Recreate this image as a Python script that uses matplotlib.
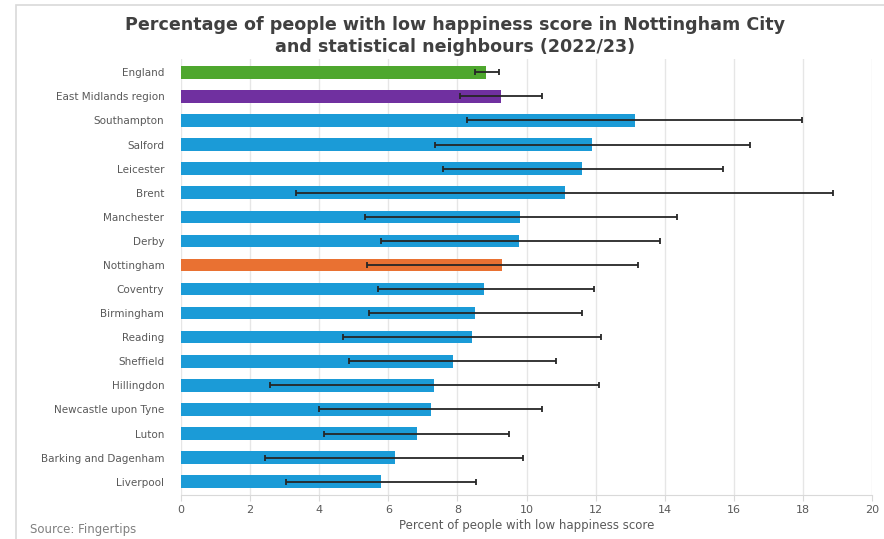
import matplotlib.pyplot as plt
from matplotlib.patches import Rectangle
import numpy as np

areas = ["England", "East Midlands region", "Southampton", "Salford", "Leicester",
         "Brent", "Manchester", "Derby", "Nottingham", "Coventry", "Birmingham",
         "Reading", "Sheffield", "Hillingdon", "Newcastle upon Tyne", "Luton",
         "Barking and Dagenham", "Liverpool"]
values = [8.83, 9.26, 13.13, 11.91, 11.62, 11.11, 9.81, 9.79, 9.29, 8.78, 8.51,
          8.41, 7.86, 7.32, 7.23, 6.82, 6.19, 5.79]
lower_ci = [8.50, 8.07, 8.28, 7.35, 7.58, 3.33, 5.33, 5.79, 5.37, 5.69, 5.44,
            4.70, 4.87, 2.58, 3.99, 4.15, 2.43, 3.04]
upper_ci = [9.20, 10.45, 17.96, 16.47, 15.69, 18.86, 14.35, 13.85, 13.22, 11.94,
            11.60, 12.15, 10.85, 12.10, 10.46, 9.50, 9.91, 8.53]
x_ticks = [0, 2, 4, 6, 8, 10, 12, 14, 16, 18, 20]

BLUE = "#1B9BD7"
highlight = {"England": "#4EA72E", "East Midlands region": "#7030A0",
             "Nottingham": "#E97132"}
colors = [highlight.get(a, BLUE) for a in areas]

fig = plt.figure(figsize=(8.84, 5.39), dpi=100)
fig.patch.set_facecolor("white")

# thin frame around the chart area
fig.add_artist(Rectangle((16 / 884, -0.05), 1.0, 1 - 5 / 539 + 0.05,
                         transform=fig.transFigure, fill=False,
                         edgecolor="#D9D9D9", linewidth=1.2))

ax = fig.add_axes([181 / 884, 1 - 495 / 539, (872 - 181) / 884, (495 - 59) / 539])

y = np.arange(len(areas))
vals = np.array(values)
err = np.array([vals - np.array(lower_ci), np.array(upper_ci) - vals])

ax.barh(y, vals, height=0.52, color=colors, zorder=2)
ax.errorbar(vals, y, xerr=err, fmt="none", ecolor="#262626", elinewidth=1.3,
            capsize=2.2, capthick=1.3, zorder=3)

ax.set_ylim(len(areas) - 0.45, -0.55)
ax.set_xlim(0, 20)
ax.set_xticks(x_ticks)
ax.set_xticklabels([str(t) for t in x_ticks])
ax.set_yticks(y)
ax.set_yticklabels(areas)

ax.grid(axis="x", color="#E6E6E6", linewidth=1, zorder=0)
for s in ["top", "right", "left"]:
    ax.spines[s].set_visible(False)
ax.spines["bottom"].set_color("#D9D9D9")
ax.tick_params(axis="y", length=0, pad=12, labelsize=7.5, labelcolor="#595959")
ax.tick_params(axis="x", length=4, color="#D9D9D9", pad=3, labelsize=8,
               labelcolor="#595959")

ax.set_xlabel("Percent of people with low happiness score", fontsize=8.5,
              color="#595959", labelpad=3)

fig.text(0.515, 1 - 25 / 539,
         "Percentage of people with low happiness score in Nottingham City",
         ha="center", va="center", fontsize=12.6, fontweight="bold",
         color="#404040")
fig.text(0.515, 1 - 47 / 539, "and statistical neighbours (2022/23)",
         ha="center", va="center", fontsize=12.6, fontweight="bold",
         color="#404040")

fig.text(30 / 884, 1 - 530 / 539, "Source: Fingertips", ha="left", va="center",
         fontsize=8.5, color="#7F7F7F")

fig.savefig("out.png", dpi=100, facecolor="white")
